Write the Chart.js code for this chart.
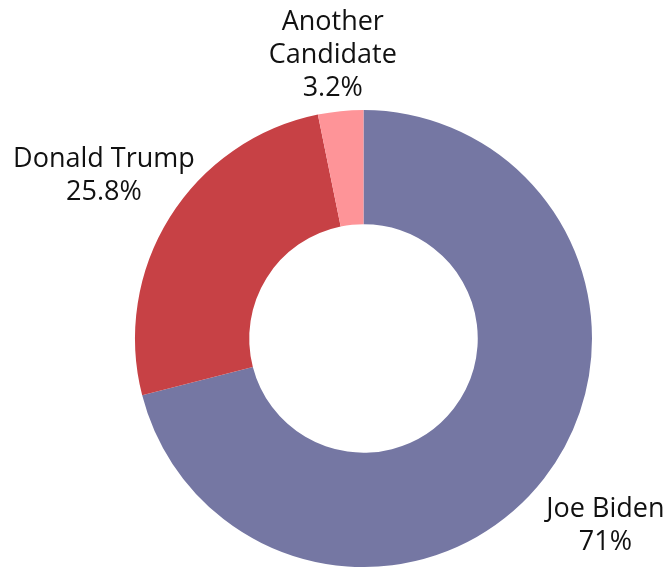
<!DOCTYPE html>
<html>
<head>
<meta charset="utf-8">
<script src="https://cdn.jsdelivr.net/npm/chart.js@4.4.1/dist/chart.umd.min.js"></script>
<style>
  html, body { margin: 0; padding: 0; background: #ffffff; }
  #wrap { width: 672px; height: 567px; }
</style>
</head>
<body>
<div id="wrap"><canvas id="chart" width="672" height="567"></canvas></div>
<script>
const candidates = ['Joe Biden', 'Donald Trump', 'Another Candidate'];
const labelLines = [['Joe Biden'], ['Donald Trump'], ['Another', 'Candidate']];
const shares = [71, 25.8, 3.2];
const sliceColors = ['#7577a3', '#c74145', '#fe9498'];

const FONT = '400 27px "Open Sans", sans-serif';
const LINE_H = 33;

// Outside labels: name lines plus the share, placed along each slice's mid-angle
const outsideLabels = {
  id: 'outsideLabels',
  afterDraw(chart) {
    const ctx = chart.ctx;
    const meta = chart.getDatasetMeta(0);
    ctx.save();
    ctx.font = FONT;
    ctx.fillStyle = '#111111';
    ctx.textAlign = 'center';
    ctx.textBaseline = 'middle';
    meta.data.forEach((arc, i) => {
      const p = arc.getProps(['x', 'y', 'startAngle', 'endAngle', 'outerRadius'], true);
      const mid = (p.startAngle + p.endAngle) / 2;
      const r = p.outerRadius * 1.34;
      const lines = labelLines[i].concat([shares[i] + '%']);
      const blockH = (lines.length - 1) * LINE_H;
      let cy = p.y + Math.sin(mid) * r;
      const cx = p.x + Math.cos(mid) * r;
      const top = cy - blockH / 2 - 16;
      if (top < 6) cy += 6 - top;
      const bottom = cy + blockH / 2 + 16;
      if (bottom > chart.height - 6) cy -= bottom - (chart.height - 6);
      lines.forEach((t, k) => {
        ctx.fillText(t, cx, cy - blockH / 2 + k * LINE_H);
      });
    });
    ctx.restore();
  }
};

new Chart(document.getElementById('chart'), {
  type: 'doughnut',
  data: {
    labels: candidates,
    datasets: [{
      data: shares,
      backgroundColor: sliceColors,
      borderWidth: 0
    }]
  },
  options: {
    responsive: false,
    animation: false,
    cutout: '50%',
    layout: { padding: { left: 135, right: 80, top: 110, bottom: 0 } },
    plugins: {
      legend: { display: false },
      tooltip: { enabled: false }
    }
  },
  plugins: [outsideLabels]
});
</script>
</body>
</html>
